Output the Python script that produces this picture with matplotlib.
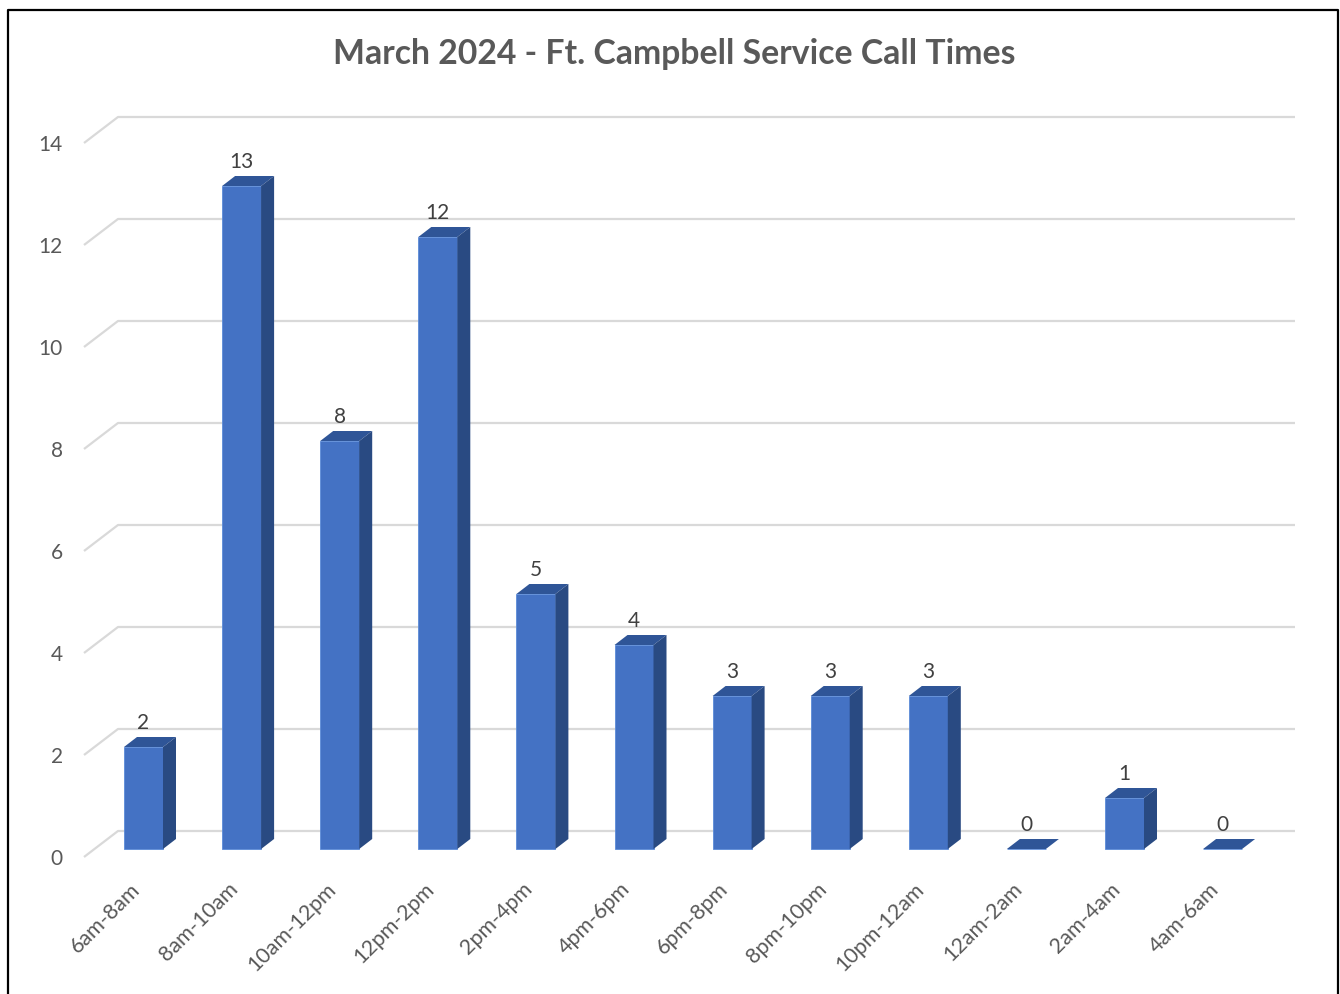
import matplotlib
matplotlib.use("Agg")
import matplotlib.pyplot as plt
from matplotlib.patches import Polygon
import numpy as np

# chart data
categories = ["6am-8am", "8am-10am", "10am-12pm", "12pm-2pm", "2pm-4pm", "4pm-6pm",
              "6pm-8pm", "8pm-10pm", "10pm-12am", "12am-2am", "2am-4am", "4am-6am"]
calls = [2, 13, 8, 12, 5, 4, 3, 3, 3, 0, 1, 0]
y_ticks = [0, 2, 4, 6, 8, 10, 12, 14]
title = "March 2024 - Ft. Campbell Service Call Times"

plt.rcParams['font.family'] = ['Lato', 'DejaVu Sans']

W, H = 1340, 994
fig = plt.figure(figsize=(W / 100, H / 100), dpi=100)
ax = fig.add_axes([0, 0, 1, 1])

# pixel -> data scale (one category = 98.1 px, one call = 51 px)
px_x = 1 / 98.1
px_y = 1 / 51
x0_px, y0_px = 143.5, 849
ax.set_xlim(-x0_px * px_x, (W - x0_px) * px_x)
ax.set_ylim((y0_px - H) * px_y, y0_px * px_y)
ax.axis('off')

front = '#4472C4'
top_c = '#2F5597'
side_c = '#294A82'
grid_c = '#D9D9D9'

# depth offsets
bw = 39 * px_x
ddx, ddy = 13 * px_x, 10 * px_y

# gridlines: front-left diagonal then along back wall
gx_front = (84 - x0_px) * px_x
gx_back = (118 - x0_px) * px_x
gx_end = (1295 - x0_px) * px_x
for v in y_ticks:
    yf = v - 8 * px_y
    yb = v + 18 * px_y
    ax.plot([gx_front, gx_back, gx_end], [yf, yb, yb], color=grid_c, lw=1.6,
            zorder=1, solid_capstyle='butt')
    ax.text((63 - x0_px) * px_x, yf - 2 * px_y, str(v), ha='right', va='center',
            fontsize=15, color='#595959')

x = np.arange(len(categories))
ax.bar(x, calls, width=bw, color=front, edgecolor='#5B8BD8', linewidth=0.6, zorder=3)
for xi, v in zip(x, calls):
    l, r = xi - bw / 2, xi + bw / 2
    top = Polygon([(l, v), (r, v), (r + ddx, v + ddy), (l + ddx, v + ddy)],
                  closed=True, facecolor=top_c, edgecolor='none', zorder=3)
    ax.add_patch(top)
    if v > 0:
        side = Polygon([(r, 0), (r + ddx, ddy), (r + ddx, v + ddy), (r, v)],
                       closed=True, facecolor=side_c, edgecolor='none', zorder=3)
        ax.add_patch(side)
    ax.text(xi, v + 24 * px_y, str(v), ha='center', va='center',
            fontsize=15, color='#404040', zorder=4)
    ax.text(xi - 14 * px_x, -30 * px_y, categories[xi], rotation=45,
            rotation_mode='anchor', ha='right', va='top', fontsize=15.5,
            color='#595959')

fig.text(674 / W, 1 - 54 / H, title, ha='center', va='center', fontsize=24.3,
         fontweight='bold', color='#595959')

# chart border (left, top, right)
fig.add_artist(plt.Line2D([8 / W, 8 / W, 1338 / W, 1338 / W],
                          [0, 1 - 10 / H, 1 - 10 / H, 0], color='black', lw=1.6,
                          transform=fig.transFigure))

fig.savefig("out.png", dpi=100)
